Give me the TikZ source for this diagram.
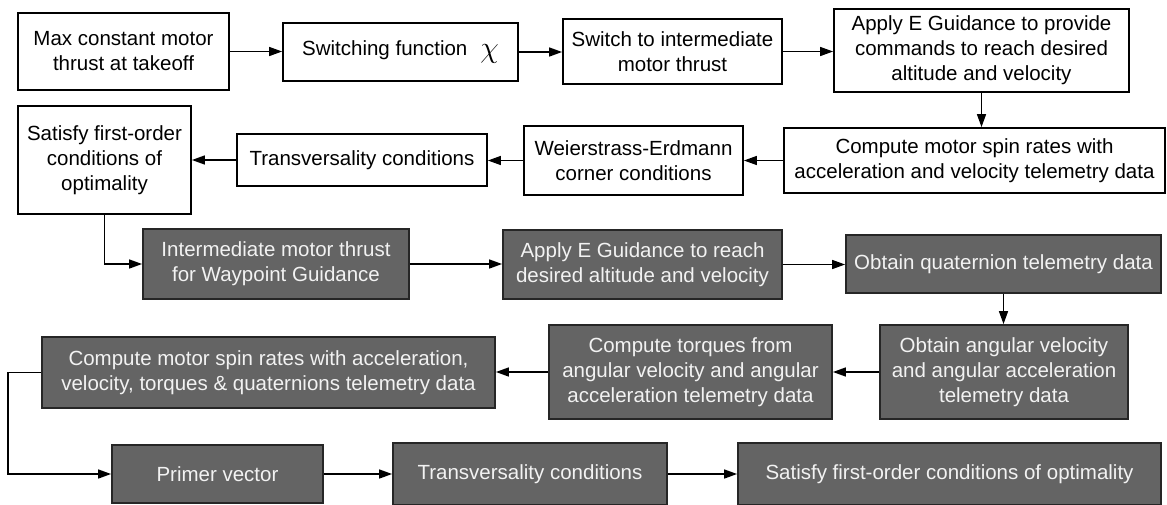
\documentclass[tikz,border=0pt]{standalone}
\usepackage{fontspec}
\setmainfont{Liberation Sans}
\usepackage{graphicx}
\usetikzlibrary{arrows.meta}

\definecolor{darkbox}{HTML}{646464}
\definecolor{lighttext}{HTML}{F2F2F2}

\tikzset{
  flowbox/.style={draw=black, line width=1.8pt, align=center, inner sep=0pt,
    font=\fontsize{20.5}{25}\selectfont},
  plainbox/.style={flowbox, fill=white, text=black},
  shadebox/.style={flowbox, fill=darkbox, draw=black!85, text=lighttext},
  conn/.style={line width=1.5pt, -{Triangle[length=13pt,width=9pt]}}
}

\begin{document}
\begin{tikzpicture}[x=1pt, y=-1pt]
\useasboundingbox[fill=white] (0,0) rectangle (1167,504);

% first row: take-off and switching
\node[plainbox, minimum width=211pt, minimum height=77pt] (takeoff) at (123.5,51.5)
  {Max constant motor\\thrust at takeoff};
\node[plainbox, minimum width=235pt, minimum height=58pt] (switchfn) at (400.5,52)
  {Switching function\hspace{13pt}\raisebox{-2pt}{\scalebox{1.45}{$\chi$}}};
\node[plainbox, minimum width=219pt, minimum height=65pt] (interm) at (672.5,51.5)
  {Switch to intermediate\\motor thrust};
\node[plainbox, minimum width=295pt, minimum height=83pt] (eguide) at (981.5,50.5)
  {Apply E Guidance to provide\\commands to reach desired\\altitude and velocity};

% second row: necessary conditions
\node[plainbox, minimum width=381pt, minimum height=65pt] (spin) at (974.5,160.5)
  {Compute motor spin rates with\\acceleration and velocity telemetry data};
\node[plainbox, minimum width=219pt, minimum height=69pt] (corner) at (633.5,160.5)
  {Weierstrass-Erdmann\\corner conditions};
\node[plainbox, minimum width=250pt, minimum height=52pt] (transv) at (362,160)
  {Transversality conditions};
\node[plainbox, minimum width=173pt, minimum height=108pt] (optim) at (104.5,160)
  {Satisfy first-order\\conditions of\\optimality};

% third row: waypoint guidance
\node[shadebox, minimum width=266pt, minimum height=70pt] (waypt) at (276,264)
  {Intermediate motor thrust\\for Waypoint Guidance};
\node[shadebox, minimum width=279pt, minimum height=69pt] (reach) at (642.5,264.5)
  {Apply E Guidance to reach\\desired altitude and velocity};
\node[shadebox, minimum width=315pt, minimum height=58pt] (quat) at (1003.5,264)
  {Obtain quaternion telemetry data};

% fourth row: attitude telemetry
\node[shadebox, minimum width=248pt, minimum height=94pt] (angvel) at (1004,372)
  {Obtain angular velocity\\and angular acceleration\\telemetry data};
\node[shadebox, minimum width=283pt, minimum height=94pt] (torque) at (690.5,372)
  {Compute torques from\\angular velocity and angular\\acceleration telemetry data};
\node[shadebox, minimum width=453pt, minimum height=71pt] (spinall) at (268.5,372.5)
  {Compute motor spin rates with acceleration,\\velocity, torques \& quaternions telemetry data};

% fifth row: primer vector analysis
\node[shadebox, minimum width=211pt, minimum height=58pt] (primer) at (217.5,474)
  {Primer vector};
\node[shadebox, minimum width=274pt, minimum height=62pt] (transv2) at (530,474)
  {Transversality conditions};
\node[shadebox, minimum width=423pt, minimum height=62pt] (optim2) at (949.5,474)
  {Satisfy first-order conditions of optimality};

% connectors
\draw[conn] (takeoff.east) -- (switchfn.west |- takeoff.east);
\draw[conn] (switchfn.east) -- (interm.west |- switchfn.east);
\draw[conn] (interm.east) -- (eguide.west |- interm.east);
\draw[conn] (eguide.south) -- (spin.north -| eguide.south);

\draw[conn] (spin.west) -- (corner.east |- spin.west);
\draw[conn] (corner.west) -- (transv.east |- corner.west);
\draw[conn] (transv.west) -- (optim.east |- transv.west);
\draw[conn] (optim.south) |- (waypt.west);

\draw[conn] (waypt.east) -- (reach.west |- waypt.east);
\draw[conn] (reach.east) -- (quat.west |- reach.east);
\draw[conn] (quat.south) -- (angvel.north -| quat.south);

\draw[conn] (angvel.west) -- (torque.east |- angvel.west);
\draw[conn] (torque.west) -- (spinall.east |- torque.west);
\draw[conn] (spinall.west) -- ++(-33,0) |- (primer.west);

\draw[conn] (primer.east) -- (transv2.west |- primer.east);
\draw[conn] (transv2.east) -- (optim2.west |- transv2.east);
\end{tikzpicture}
\end{document}
